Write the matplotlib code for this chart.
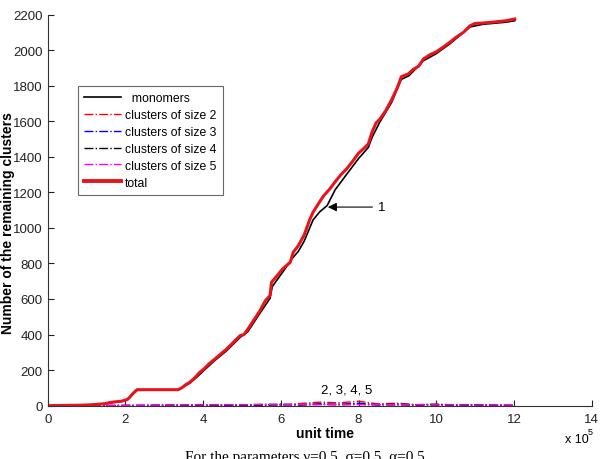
import matplotlib
matplotlib.use('Agg')
import matplotlib.pyplot as plt

plt.rcParams['font.family'] = ['Liberation Sans', 'DejaVu Sans']

# time in units of 1e5
total_t = [0.0, 0.3, 0.6, 0.9, 1.1, 1.3, 1.5, 1.6, 1.75, 1.9, 2.0, 2.05, 2.1, 2.2, 2.3,
           3.35, 3.45, 3.55, 3.66, 3.8, 3.9, 4.02, 4.15, 4.3, 4.45, 4.6, 4.75, 4.85, 4.95,
           5.05, 5.15, 5.3, 5.45, 5.6, 5.72, 5.76, 5.9, 6.05, 6.24, 6.32, 6.45, 6.6, 6.75,
           6.83, 6.95, 7.1, 7.26, 7.4, 7.55, 7.69, 7.85, 8.0, 8.15, 8.25, 8.35, 8.45, 8.55,
           8.7, 8.85, 9.0, 9.1, 9.28, 9.4, 9.55, 9.67, 9.85, 10.0, 10.2, 10.35, 10.5, 10.7,
           10.87, 11.0, 11.2, 11.5, 11.8, 12.02]
total_n = [0, 1, 2, 3, 5, 8, 12, 18, 22, 25, 32, 35, 45, 70, 90,
           90, 100, 118, 132, 160, 185, 206, 235, 262, 290, 318, 350, 372, 394,
           400, 430, 480, 530, 590, 619, 694, 730, 770, 806, 863, 900, 960, 1050,
           1088, 1130, 1180, 1219, 1260, 1300, 1331, 1375, 1420, 1450, 1472, 1540, 1590, 1612,
           1660, 1720, 1790, 1850, 1866, 1890, 1910, 1950, 1975, 1990, 2020, 2044, 2070, 2100,
           2137, 2150, 2152, 2158, 2165, 2175]

mono_t = [0.0, 1.1, 1.5, 1.75, 1.9, 2.0, 2.1, 2.2, 2.3, 3.35, 3.55, 3.66, 3.8, 4.02, 4.3,
          4.6, 4.95, 5.15, 5.45, 5.72, 5.78, 6.05, 6.3, 6.45, 6.6, 6.83, 7.0, 7.19, 7.4,
          7.69, 8.0, 8.25, 8.35, 8.55, 8.85, 9.1, 9.3, 9.67, 10.0, 10.35, 10.87, 11.2, 11.8, 12.02]
mono_n = [0, 5, 12, 21, 24, 30, 43, 68, 88, 88, 113, 127, 153, 198, 254,
          308, 384, 416, 516, 603, 670, 752, 830, 868, 925, 1045, 1090, 1125, 1215,
          1300, 1390, 1452, 1510, 1596, 1705, 1835, 1856, 1940, 1980, 2035, 2130, 2145, 2157, 2165]

small_t = [0, 0.5, 1, 1.5, 2, 2.5, 3, 3.5, 4, 4.5, 5, 5.5, 6, 6.5, 7, 7.5, 8, 8.5, 9,
           9.5, 10, 10.5, 11, 11.5, 12]
size2 = [0, 0, 1, 0, 2, 1, 4, 3, 6, 2, 5, 8, 4, 12, 20, 16, 25, 10, 14, 6, 9, 4, 6, 3, 2]
size3 = [0, 0, 0, 1, 0, 2, 1, 3, 2, 4, 3, 6, 9, 5, 11, 8, 14, 6, 9, 5, 7, 3, 4, 2, 1]
size4 = [0, 0, 0, 0, 1, 0, 2, 1, 2, 1, 3, 2, 5, 4, 7, 5, 8, 4, 5, 3, 4, 2, 3, 1, 1]
size5 = [0, 1, 1, 2, 2, 3, 3, 4, 4, 5, 5, 6, 6, 7, 6, 7, 6, 6, 5, 5, 5, 4, 4, 4, 3]

fig = plt.figure(figsize=(6.06, 4.6), dpi=100)
ax = fig.add_axes([0.0787, 0.1159, 0.8977, 0.8504])

ax.plot(mono_t, mono_n, color='black', lw=1.2, label='  monomers')
ax.plot(small_t, size2, color='red', ls='-.', lw=1, label='clusters of size 2')
ax.plot(small_t, size3, color='blue', ls='-.', lw=1, label='clusters of size 3')
ax.plot(small_t, size4, color='black', ls='-.', lw=1, label='clusters of size 4')
ax.plot(small_t, size5, color='magenta', ls='-.', lw=1, label='clusters of size 5')
ax.plot(total_t, total_n, color='#e8141c', lw=2.2, label='total')

ax.set_xlim(0, 14)
ax.set_ylim(0, 2200)
ax.set_xticks(range(0, 15, 2))
ax.set_yticks(range(0, 2201, 200))
ax.tick_params(direction='in', length=4, width=0.8, labelsize=9.5, colors='#222')
ax.tick_params(axis='x', pad=5)
ax.tick_params(axis='y', pad=3.5)
for s in ['top', 'right']:
    ax.spines[s].set_visible(False)
for s in ['left', 'bottom']:
    ax.spines[s].set_color('#333')
    ax.spines[s].set_linewidth(0.8)

ax.set_xlabel('unit time', fontsize=10, fontweight='bold')
ax.xaxis.set_label_coords(0.51, -0.052)
ax.set_ylabel('Number of the remaining clusters', fontsize=10, fontweight='bold')
ax.yaxis.set_label_coords(-0.061, 0.47)

# annotations
ax.annotate('1', xy=(7.21, 1117), xytext=(8.5, 1117), fontsize=9.5, va='center',
            arrowprops=dict(arrowstyle='-|>', color='black', lw=0.8, mutation_scale=13,
                            shrinkA=2, shrinkB=0))
ax.text(7.7, 92, '2, 3, 4, 5', fontsize=9.5, ha='center', va='center')

fig.text(577 / 606, 1 - 440 / 460, 'x 10', fontsize=9, ha='center', va='center')
fig.text(590 / 606, 1 - 433 / 460, '5', fontsize=6.5, ha='center', va='center')

fig.text(305 / 606, 1 - 458 / 460, 'For the parameters γ=0.5, σ=0.5, α=0.5',
         family=['Liberation Serif', 'DejaVu Serif'], fontsize=11, ha='center', va='center')

leg = ax.legend(loc='upper left', bbox_to_anchor=(78 / 606, 1 - 87 / 460),
                bbox_transform=fig.transFigure, borderaxespad=0, fontsize=8.8,
                fancybox=False, frameon=True, handlelength=3.0, handletextpad=0.35,
                labelspacing=0.4, borderpad=0.5)
leg.get_frame().set_edgecolor('#444')
leg.get_frame().set_linewidth(0.8)
leg.get_lines()[-1].set_linewidth(2.8)

plt.savefig('out.png', dpi=100)
